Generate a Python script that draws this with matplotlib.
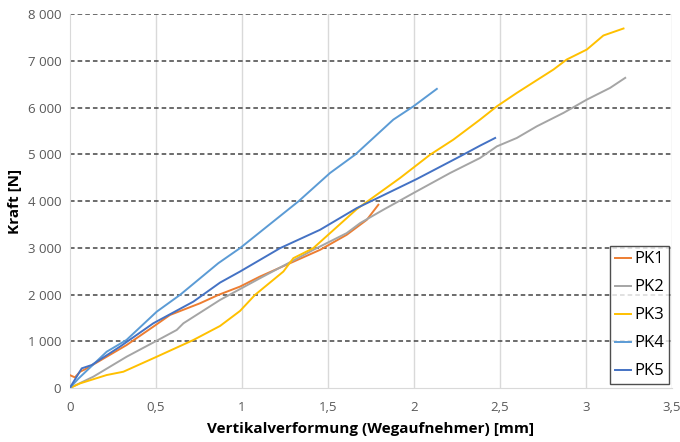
import matplotlib.pyplot as plt
from matplotlib.ticker import FuncFormatter, MultipleLocator

plt.rcParams['font.family'] = ['Open Sans', 'DejaVu Sans']

# data (deformation in mm, force in N)
pk1_x = [0, 0.03, 0.06, 0.089, 0.215, 0.331, 0.486, 0.583, 0.758, 0.864, 0.99, 1.106, 1.281, 1.455, 1.61, 1.688, 1.727, 1.794]
pk1_y = [279, 229, 350, 400, 671, 921, 1314, 1564, 1815, 1993, 2171, 2386, 2672, 2957, 3279, 3493, 3600, 3922]

pk2_x = [0, 0.137, 0.331, 0.506, 0.622, 0.661, 0.874, 1.106, 1.416, 1.61, 1.688, 1.823, 1.998, 2.211, 2.385, 2.483, 2.599, 2.715, 2.87, 3.006, 3.141, 3.229]
pk2_y = [0, 243, 671, 1014, 1243, 1386, 1886, 2350, 2957, 3315, 3529, 3815, 4172, 4601, 4922, 5171, 5351, 5600, 5887, 6172, 6422, 6637]

pk3_x = [0, 0.06, 0.215, 0.312, 0.506, 0.719, 0.874, 0.99, 1.077, 1.242, 1.30, 1.416, 1.669, 1.92, 2.095, 2.23, 2.385, 2.483, 2.599, 2.812, 2.889, 3.006, 3.102, 3.219]
pk3_y = [0, 100, 279, 350, 671, 1029, 1329, 1650, 1993, 2493, 2779, 2994, 3830, 4494, 4993, 5315, 5743, 6028, 6315, 6815, 7029, 7243, 7543, 7693]

pk4_x = [0, 0.05, 0.215, 0.33, 0.506, 0.641, 0.864, 0.99, 1.329, 1.513, 1.659, 1.881, 1.998, 2.134]
pk4_y = [0, 200, 778, 1029, 1635, 1993, 2672, 2994, 3993, 4601, 4993, 5743, 6028, 6401]

pk5_x = [0, 0.07, 0.128, 0.292, 0.486, 0.719, 0.874, 0.99, 1.223, 1.455, 1.669, 2.017, 2.269, 2.385, 2.473]
pk5_y = [0, 422, 493, 886, 1386, 1850, 2257, 2493, 2994, 3386, 3851, 4472, 4957, 5186, 5351]

series = [
    ('PK1', pk1_x, pk1_y, '#ED7D31'),
    ('PK2', pk2_x, pk2_y, '#A5A5A5'),
    ('PK3', pk3_x, pk3_y, '#FFC000'),
    ('PK4', pk4_x, pk4_y, '#5B9BD5'),
    ('PK5', pk5_x, pk5_y, '#4472C4'),
]

fig = plt.figure(figsize=(6.8, 4.42), dpi=100)
ax = fig.add_axes([0.1025, 0.122, 0.8855, 0.846])

for name, xs, ys, col in series:
    ax.plot(xs, ys, color=col, lw=1.4, label=name, zorder=3)

ax.set_xlim(0, 3.5)
ax.set_ylim(0, 8000)
ax.xaxis.set_major_locator(MultipleLocator(0.5))
ax.yaxis.set_major_locator(MultipleLocator(1000))
ax.xaxis.set_major_formatter(FuncFormatter(lambda v, p: ('%g' % v).replace('.', ',')))
ax.yaxis.set_major_formatter(FuncFormatter(lambda v, p: '{:,.0f}'.format(v).replace(',', ' ')))

# gridlines like the excel original
for xv in [0.5, 1, 1.5, 2, 2.5, 3, 3.5]:
    ax.axvline(xv, color='#D9D9D9', lw=1, zorder=1)
for yv in range(1000, 8001, 1000):
    ax.axhline(yv, color='#444444', lw=1.1, ls=(0, (3, 2)), zorder=1)

for s in ['top', 'right']:
    ax.spines[s].set_visible(False)
ax.spines['left'].set_color('#D9D9D9')
ax.spines['bottom'].set_color('#D9D9D9')
ax.tick_params(length=0, labelsize=9.5, colors='#595959', pad=6)
ax.tick_params(axis='x', pad=9)

ax.set_xlabel('Vertikalverformung (Wegaufnehmer) [mm]', fontsize=11, fontweight='bold', color='black', labelpad=6)
ax.set_ylabel('Kraft [N]', fontsize=11, fontweight='bold', color='black', labelpad=4)

leg = ax.legend(loc='lower right', bbox_to_anchor=(0.995, 0.01), fontsize=12, frameon=True, fancybox=False,
                handlelength=1.0, handletextpad=0.15, labelspacing=0.72, borderpad=0.3, borderaxespad=0)
leg.get_frame().set_edgecolor('#222222')
leg.get_frame().set_linewidth(1.0)

fig.savefig('out.png', dpi=100)
